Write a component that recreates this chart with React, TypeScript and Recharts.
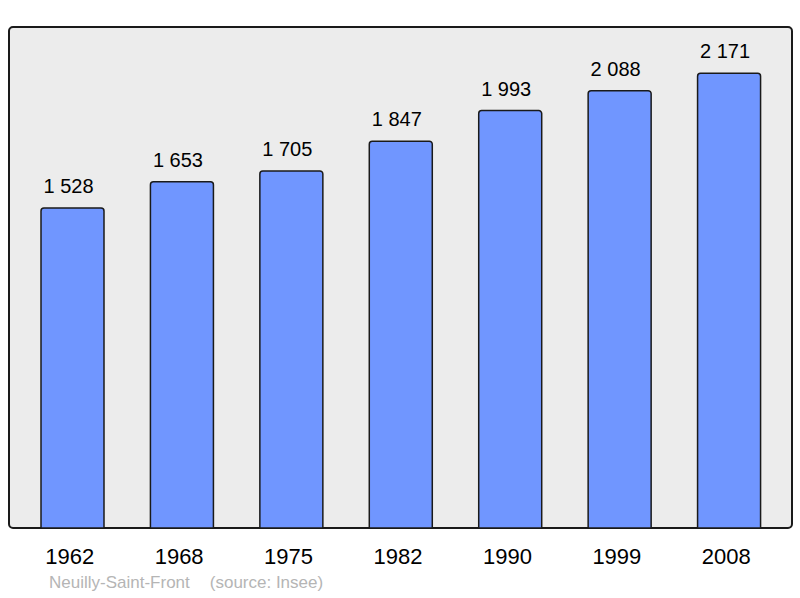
import React from 'react';
import { BarChart, Bar, XAxis, YAxis, LabelList } from 'recharts';

const years = ['1962', '1968', '1975', '1982', '1990', '1999', '2008'];
const population = [1528, 1653, 1705, 1847, 1993, 2088, 2171];

const data = years.map((year, i) => ({ year, population: population[i] }));

// "1528" -> "1 528"
const fmt = (v: any) => String(v).replace(/\B(?=(\d{3})+(?!\d))/g, ' ');

const font = '"Liberation Sans", Arial, sans-serif';

export default function App() {
  return (
    <div style={{ position: 'absolute', left: 0, top: 0, width: 800, height: 598, background: '#fff', fontFamily: font }}>
      {/* grey frame behind the plot */}
      <div
        style={{
          position: 'absolute',
          left: 8,
          top: 26,
          width: 785,
          height: 503,
          background: '#ececec',
          border: '2px solid #1a1a1a',
          borderRadius: 5,
          boxSizing: 'border-box',
        }}
      />
      <div style={{ position: 'absolute', left: 0, top: 0 }}>
        <BarChart width={800} height={598} data={data} margin={{ top: 27, right: 8, bottom: 0, left: 9 }}>
          <XAxis
            dataKey="year"
            height={70}
            axisLine={false}
            tickLine={false}
            tickMargin={14}
            padding={{ left: 9, right: 8 }}
            tick={{ fontSize: 22, fill: '#000', fontFamily: font, dx: -3 }}
            interval={0}
          />
          <YAxis hide domain={[0, 2392]} />
          <Bar
            dataKey="population"
            fill="#7096ff"
            stroke="#1a1a1a"
            strokeWidth={1.5}
            barSize={63}
            radius={[3, 3, 0, 0]}
            isAnimationActive={false}
          >
            <LabelList
              dataKey="population"
              position="top"
              offset={15}
              dx={-4}
              formatter={fmt}
              style={{ fontSize: 20, fill: '#000', fontFamily: font }}
            />
          </Bar>
        </BarChart>
      </div>
      <div style={{ position: 'absolute', left: 49, top: 573, fontSize: 17, color: '#b5b5b5', whiteSpace: 'nowrap' }}>
        <span>Neuilly-Saint-Front</span>
        <span style={{ marginLeft: 20 }}>(source: Insee)</span>
      </div>
    </div>
  );
}
